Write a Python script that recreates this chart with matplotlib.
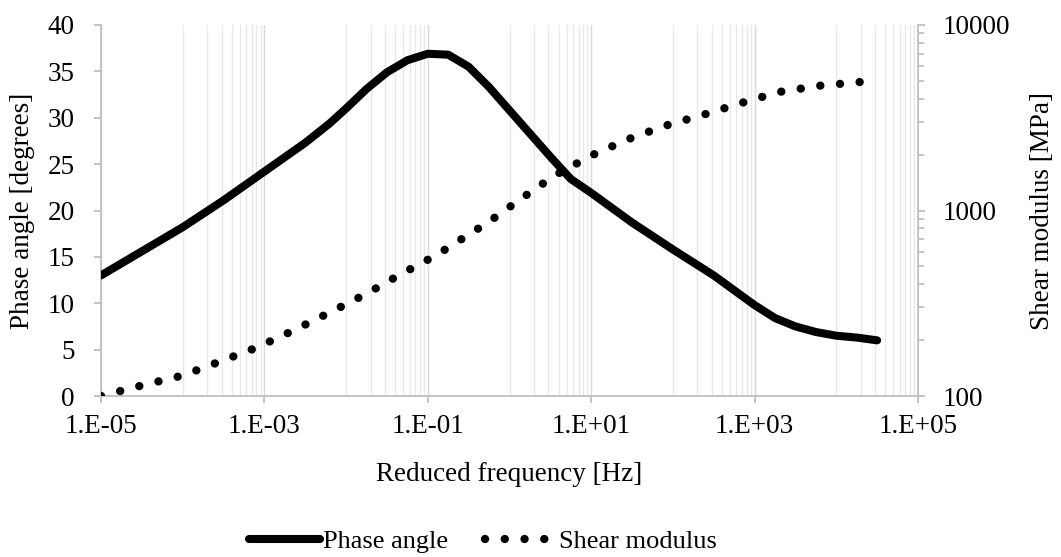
import numpy as np
import matplotlib.pyplot as plt
from matplotlib.ticker import FixedLocator, NullFormatter, LogLocator

plt.rcParams['font.family'] = ['Liberation Serif', 'DejaVu Serif']

# Phase angle (solid line), x as log10 of reduced frequency
phase_logf = [-5, -4.5, -4, -3.5, -3, -2.5, -2.2, -2, -1.75, -1.5, -1.25, -1, -0.75,
              -0.5, -0.25, 0, 0.25, 0.5, 0.75, 1, 1.25, 1.5, 2, 2.5, 3, 3.25, 3.5,
              3.75, 4, 4.25, 4.5]
phase_deg = [13.0, 15.6, 18.2, 21.1, 24.2, 27.3, 29.4, 31.0, 33.1, 34.9, 36.2, 36.9, 36.8,
             35.5, 33.3, 30.8, 28.3, 25.8, 23.4, 21.9, 20.3, 18.7, 15.8, 13.0, 9.8, 8.4, 7.5,
             6.9, 6.5, 6.3, 6.0]

# Shear modulus (dotted line, right axis)
shear_logf = [-5, -4.5, -4, -3.55, -3.1, -2.65, -2.2, -1.75, -1.35, -0.9, -0.25,
              0.15, 0.55, 1.0, 1.45, 1.9, 2.4, 2.85, 3.3, 3.8, 4.3, 4.5]
shear_mpa = [100, 114, 129, 153, 182, 225, 282, 356, 449, 573, 871,
             1164, 1542, 1977, 2421, 2858, 3311, 3811, 4355, 4710, 4932, 4980]

x_major = [1e-5, 1e-3, 1e-1, 1e1, 1e3, 1e5]
x_labels = ['1.E-05', '1.E-03', '1.E-01', '1.E+01', '1.E+03', '1.E+05']

fs = 19.5
gray = '#bfbfbf'

fig = plt.figure(figsize=(10.61, 5.57), dpi=100)
ax = fig.add_axes([101/1061, 1-396/557, 817/1061, 371/557])
ax2 = ax.twinx()

ax.plot(10**np.array(phase_logf), phase_deg, color='black', lw=5.8,
        solid_capstyle='round', solid_joinstyle='round', label='Phase angle', zorder=3)
ax2.plot(10**np.array(shear_logf), shear_mpa, color='black', lw=6,
         dashes=(0.01, 2.36), dash_capstyle='round', label='Shear modulus', zorder=3)

ax.set_xscale('log')
ax.set_xlim(1e-5, 1e5)
ax.set_ylim(0, 40)
ax.set_yticks(range(0, 41, 5))
ax.xaxis.set_major_locator(FixedLocator(x_major))
ax.set_xticklabels(x_labels)
minor = [k * 10.0**d for d in (-4, -2, 0, 2, 4) for k in range(1, 10)]
ax.xaxis.set_minor_locator(FixedLocator(minor))
ax.xaxis.set_minor_formatter(NullFormatter())
ax.grid(True, which='minor', axis='x', color='#e8e8e8', lw=1)
ax.grid(True, which='major', axis='x', color='#d9d9d9', lw=1)
ax.set_axisbelow(True)

ax2.set_yscale('log')
ax2.set_ylim(100, 10000)
ax2.yaxis.set_major_locator(FixedLocator([100, 1000, 10000]))
ax2.set_yticklabels(['100', '1000', '10000'])
ax2.yaxis.set_minor_locator(LogLocator(base=10, subs=range(2, 10)))
ax2.yaxis.set_minor_formatter(NullFormatter())

for a in (ax, ax2):
    a.spines['top'].set_visible(False)
    for s in ('left', 'right', 'bottom'):
        a.spines[s].set_color(gray)
        a.spines[s].set_linewidth(1.3)
ax.spines['right'].set_visible(False)
ax2.spines['left'].set_visible(False)
ax2.spines['bottom'].set_visible(False)

ax.tick_params(axis='y', which='major', direction='out', length=5, width=1.3,
               color=gray, labelsize=fs, pad=14)
ax.tick_params(axis='x', which='major', direction='out', length=5, width=1.3,
               color=gray, labelsize=fs, pad=8)
ax.tick_params(axis='x', which='minor', length=0)
ax2.tick_params(axis='y', which='major', direction='out', length=5, width=1.3,
                color=gray, labelsize=fs, pad=13)
ax2.tick_params(axis='y', which='minor', direction='out', length=4, width=1.3, color=gray)

ax.set_xlabel('Reduced frequency [Hz]', fontsize=fs)
ax.xaxis.set_label_coords(0.5, -0.177)
ax.set_ylabel('Phase angle [degrees]', fontsize=fs)
ax.yaxis.set_label_coords(-0.081, 0.5)
ax2.set_ylabel('Shear modulus [MPa]', fontsize=fs)
ax2.yaxis.set_label_coords(1.137, 0.5)

h1, l1 = ax.get_legend_handles_labels()
h2, l2 = ax2.get_legend_handles_labels()
fig.legend(h1 + h2, l1 + l2, loc='center', bbox_to_anchor=(0.455, 0.028), ncol=2,
           frameon=False, fontsize=19, handlelength=2.7, handletextpad=0.1,
           columnspacing=1.4, borderpad=0)

fig.savefig('out.png', dpi=100)
